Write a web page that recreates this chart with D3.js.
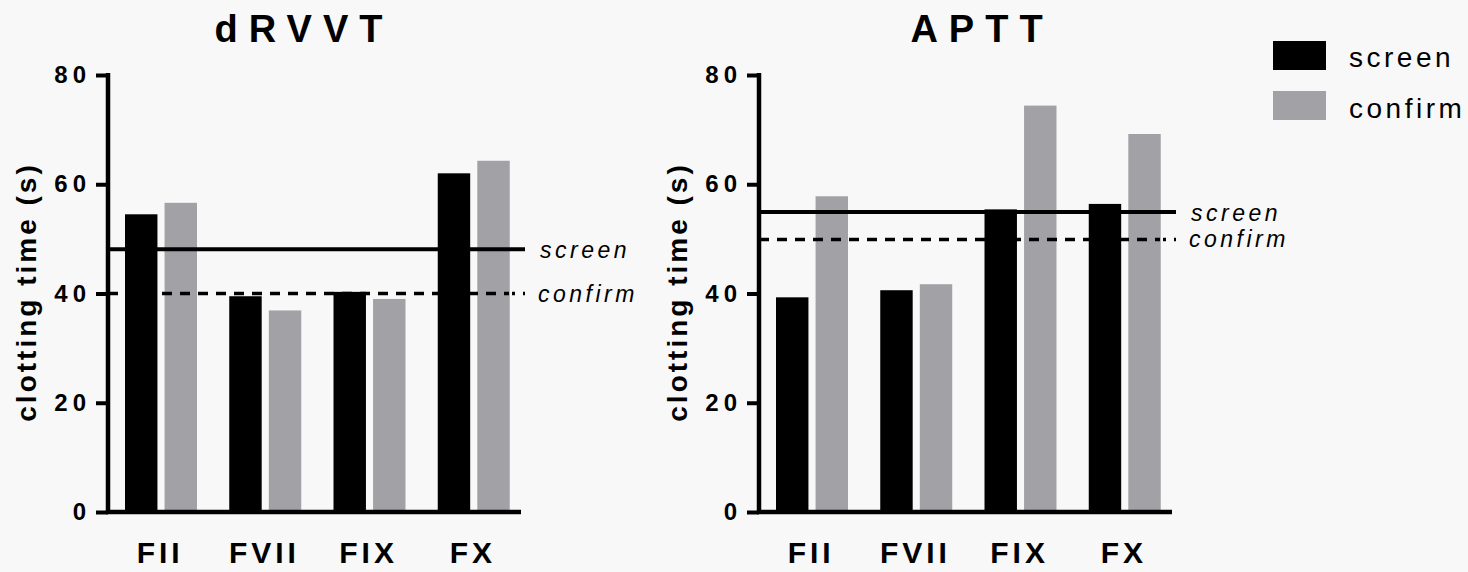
<!DOCTYPE html>
<html>
<head>
<meta charset="utf-8">
<script src="https://cdn.jsdelivr.net/npm/d3@7"></script>
<style>
  html, body { margin: 0; padding: 0; background: #f8f8f8; }
  svg { display: block; }
  text { font-family: "Liberation Sans", Arial, sans-serif; fill: #000; }
</style>
</head>
<body>
<svg id="chart" width="1468" height="572"></svg>
<script>
// Factor categories shared by both assays
const categories = ["FII", "FVII", "FIX", "FX"];
const seriesNames = ["screen", "confirm"];
const yTicks = [0, 20, 40, 60, 80];

// dRVVT clotting times (s)
const drvvtScreen  = [54.5, 39.5, 40.3, 62.0];
const drvvtConfirm = [56.6, 36.9, 39.0, 64.3];
const drvvtCutoffs = { screen: 48.1, confirm: 40.0 };

// APTT clotting times (s)
const apttScreen  = [39.3, 40.6, 55.4, 56.4];
const apttConfirm = [57.8, 41.7, 74.4, 69.2];
const apttCutoffs = { screen: 54.9, confirm: 49.9 };

const colors = { screen: "#000000", confirm: "#a2a1a6" };

const svg = d3.select("#chart");

const y = d3.scaleLinear().domain([0, 80]).range([512, 75]);

function panel(x0, title, titleX, screenVals, confirmVals, cutoffs) {
  const g = svg.append("g");
  const x = d3.scaleBand().domain(categories).range([x0, x0 + 417]).padding(0);
  const xs = d3.scaleBand().domain(seriesNames).range([17, 89]).paddingInner(0.18);

  const rows = categories.map((c, i) => ({ cat: c, screen: screenVals[i], confirm: confirmVals[i] }));

  // bars
  g.selectAll("g.grp").data(rows).join("g")
    .attr("class", "grp")
    .attr("transform", d => `translate(${x(d.cat)},0)`)
    .selectAll("rect")
    .data(d => seriesNames.map(s => ({ s, v: d[s] })))
    .join("rect")
    .attr("x", d => xs(d.s))
    .attr("width", xs.bandwidth())
    .attr("y", d => y(d.v))
    .attr("height", d => y(0) - y(d.v))
    .attr("fill", d => colors[d.s]);

  // cutoff lines
  const lineEnd = x0 + 417;
  const lastBarRight = x0 + 401;
  g.append("line")
    .attr("x1", x0).attr("x2", lineEnd)
    .attr("y1", y(cutoffs.screen)).attr("y2", y(cutoffs.screen))
    .attr("stroke", "#000").attr("stroke-width", 4);
  g.append("line")
    .attr("x1", x0).attr("x2", lastBarRight)
    .attr("y1", y(cutoffs.confirm)).attr("y2", y(cutoffs.confirm))
    .attr("stroke", "#000").attr("stroke-width", 3.5)
    .attr("stroke-dasharray", "10,8");
  g.append("line")
    .attr("x1", lastBarRight + 3).attr("x2", lineEnd)
    .attr("y1", y(cutoffs.confirm)).attr("y2", y(cutoffs.confirm))
    .attr("stroke", "#000").attr("stroke-width", 3.5)
    .attr("stroke-dasharray", "3,8");

  g.append("text")
    .attr("x", x0 + 432).attr("y", y(cutoffs.screen) + 9)
    .attr("font-size", 23).attr("font-style", "italic")
    .attr("letter-spacing", 3.5)
    .text("screen");
  g.append("text")
    .attr("x", x0 + 430).attr("y", y(cutoffs.confirm) + 8)
    .attr("font-size", 23).attr("font-style", "italic")
    .attr("letter-spacing", 3.5)
    .text("confirm");

  // y axis
  const yAxis = d3.axisLeft(y).tickValues(yTicks).tickSize(12).tickPadding(5);
  const ya = g.append("g").attr("transform", `translate(${x0},0)`).call(yAxis);
  ya.select(".domain").remove();
  ya.selectAll(".tick line").attr("stroke", "#000").attr("stroke-width", 4);
  ya.selectAll(".tick text")
    .attr("font-size", 24).attr("font-weight", "bold")
    .attr("letter-spacing", 5)
    .attr("font-family", "Liberation Sans, Arial, sans-serif");
  g.append("line")
    .attr("x1", x0).attr("x2", x0)
    .attr("y1", y(80) - 2).attr("y2", y(0) + 2)
    .attr("stroke", "#000").attr("stroke-width", 4.5);

  // x axis
  const xAxis = d3.axisBottom(x).tickSize(0).tickPadding(30);
  const xa = g.append("g").attr("transform", `translate(0,${y(0)})`).call(xAxis);
  xa.select(".domain").remove();
  xa.selectAll(".tick text")
    .attr("font-size", 30).attr("font-weight", "bold")
    .attr("letter-spacing", 4)
    .attr("dy", "0.71em")
    .attr("font-family", "Liberation Sans, Arial, sans-serif");
  g.append("line")
    .attr("x1", x0 - 2).attr("x2", x0 + 413)
    .attr("y1", y(0)).attr("y2", y(0))
    .attr("stroke", "#000").attr("stroke-width", 4.5);

  // y label
  g.append("text")
    .attr("transform", `translate(${x0 - 72},${292}) rotate(-90)`)
    .attr("text-anchor", "middle")
    .attr("font-size", 28).attr("font-weight", "bold")
    .attr("letter-spacing", 3)
    .text("clotting time (s)");

  // title
  g.append("text")
    .attr("x", titleX).attr("y", 42)
    .attr("text-anchor", "middle")
    .attr("font-size", 38).attr("font-weight", "bold")
    .attr("letter-spacing", 11)
    .text(title);
}

panel(108, "dRVVT", 304, drvvtScreen, drvvtConfirm, drvvtCutoffs);
panel(759, "APTT", 982, apttScreen, apttConfirm, apttCutoffs);

// legend
const legend = svg.append("g");
seriesNames.forEach((s, i) => {
  legend.append("rect")
    .attr("x", 1273).attr("y", 41 + i * 50)
    .attr("width", 53).attr("height", 29)
    .attr("fill", colors[s]);
  legend.append("text")
    .attr("x", 1349).attr("y", 67 + i * 51)
    .attr("font-size", 28)
    .attr("letter-spacing", 3.5)
    .text(s);
});
</script>
</body>
</html>
